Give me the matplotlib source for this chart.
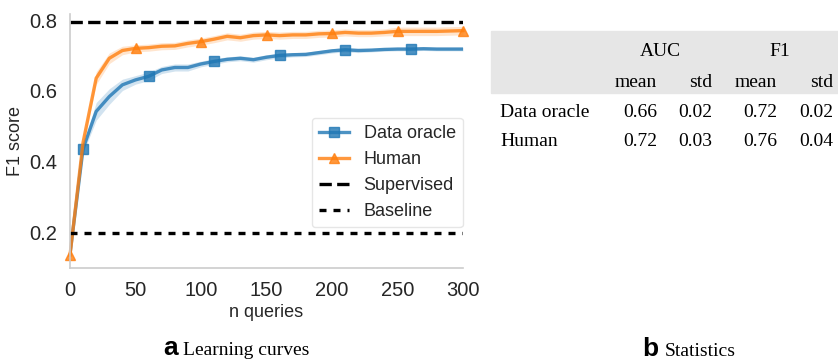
import numpy as np
import matplotlib
matplotlib.use("Agg")
import matplotlib.pyplot as plt

plt.rcParams['font.family'] = ['Liberation Sans', 'DejaVu Sans']

# learning curves, one point every 10 queries
n_queries = np.arange(0, 310, 10)
oracle_mean = [0.14, 0.437, 0.542, 0.584, 0.617, 0.631, 0.641, 0.659, 0.666, 0.666,
               0.676, 0.683, 0.689, 0.692, 0.688, 0.695, 0.700, 0.702, 0.703, 0.708,
               0.713, 0.716, 0.714, 0.715, 0.717, 0.718, 0.718, 0.719, 0.718, 0.718, 0.718]
oracle_std = [0.005, 0.012, 0.025, 0.022, 0.016, 0.012, 0.012, 0.01, 0.01, 0.01,
              0.008, 0.008, 0.007, 0.007, 0.007, 0.007, 0.007, 0.006, 0.006, 0.006,
              0.006, 0.006, 0.006, 0.005, 0.005, 0.005, 0.005, 0.005, 0.005, 0.005, 0.005]
human_mean = [0.136, 0.455, 0.636, 0.692, 0.714, 0.720, 0.722, 0.726, 0.727, 0.734,
              0.739, 0.746, 0.754, 0.750, 0.756, 0.758, 0.756, 0.758, 0.758, 0.761,
              0.762, 0.765, 0.763, 0.763, 0.765, 0.768, 0.768, 0.768, 0.768, 0.769, 0.770]
human_std = [0.005, 0.012, 0.018, 0.015, 0.012, 0.01, 0.01, 0.01, 0.01, 0.01,
             0.01, 0.01, 0.01, 0.01, 0.01, 0.01, 0.01, 0.01, 0.01, 0.01,
             0.01, 0.01, 0.01, 0.01, 0.01, 0.012, 0.012, 0.012, 0.012, 0.012, 0.012]
supervised_f1 = 0.794
baseline_f1 = 0.2

# statistics table
row_names = ["Data oracle", "Human"]
metrics = ["AUC", "F1"]
stat_names = ["mean", "std"]
table_values = [["0.66", "0.02", "0.72", "0.02"],
                ["0.72", "0.03", "0.76", "0.04"]]

W, H = 838, 360
fig = plt.figure(figsize=(W / 100, H / 100), dpi=100)

ax = fig.add_axes([70 / W, 1 - 268 / H, (463 - 70) / W, (268 - 14) / H])

x = n_queries
om, os_ = np.array(oracle_mean), np.array(oracle_std)
hm, hs = np.array(human_mean), np.array(human_std)

ax.fill_between(x, om - os_, om + os_, color='C0', alpha=0.2, lw=0)
ax.fill_between(x, hm - hs, hm + hs, color='C1', alpha=0.2, lw=0)
ax.plot(x, om, color='C0', lw=2.4, alpha=0.8, marker='s', ms=7.5, markevery=(1, 5),
        label='Data oracle')
ax.plot(x, hm, color='C1', lw=2.4, alpha=0.8, marker='^', ms=7.5, markevery=(0, 5),
        label='Human', clip_on=False)
ax.axhline(supervised_f1, color='black', lw=2.4, ls='--', label='Supervised')
ax.axhline(baseline_f1, color='black', lw=2.4, ls=(0, (2.1, 2.1)), label='Baseline')

ax.set_xlim(0, 300)
ax.set_ylim(0.1, 0.817)
ax.set_xticks([0, 50, 100, 150, 200, 250, 300])
ax.set_yticks([0.2, 0.4, 0.6, 0.8])
ax.tick_params(length=0, pad=9, labelsize=14.5, labelcolor='#262626')
for s in ['top', 'right']:
    ax.spines[s].set_visible(False)
for s in ['left', 'bottom']:
    ax.spines[s].set_color('#cccccc')
    ax.spines[s].set_linewidth(1.2)
ax.set_xlabel('n queries', fontsize=13, color='#262626', labelpad=3)
ax.set_ylabel('F1 score', fontsize=13, color='#262626', labelpad=4)

leg = ax.legend(loc='center right', bbox_to_anchor=(1.0, 0.376), borderaxespad=0,
                fontsize=13, handlelength=1.67, frameon=True, fancybox=True)
leg.get_frame().set_edgecolor('#e0e0e0')
for t in leg.get_texts():
    t.set_color('#262626')

# table on the right
serif = ['Liberation Serif', 'DejaVu Serif']
fig.patches.append(plt.Rectangle((491 / W, 1 - 93 / H), 347 / W, 62 / H,
                                 transform=fig.transFigure, color='#e6e6e6', zorder=0))
col_right = [657, 712, 777, 833]
metric_center = [660, 780]
for m, cx in zip(metrics, metric_center):
    fig.text(cx / W, 1 - 56 / H, m, family=serif, fontsize=14, ha='center', va='baseline')
for j, cr in enumerate(col_right):
    fig.text(cr / W, 1 - 87 / H, stat_names[j % 2], family=serif, fontsize=14,
             ha='right', va='baseline')
row_base = [117, 146]
for i, name in enumerate(row_names):
    fig.text(500 / W, 1 - row_base[i] / H, name, family=serif, fontsize=14,
             ha='left', va='baseline')
    for j, cr in enumerate(col_right):
        fig.text(cr / W, 1 - row_base[i] / H, table_values[i][j], family=serif,
                 fontsize=14, ha='right', va='baseline')

# panel captions
fig.text(163 / W, 1 - 355 / H, 'a', fontsize=19, fontweight='bold', ha='left', va='baseline')
fig.text(183 / W, 1 - 355 / H, 'Learning curves', family=serif, fontsize=14,
         ha='left', va='baseline')
fig.text(642 / W, 1 - 356 / H, 'b', fontsize=19, fontweight='bold', ha='left', va='baseline')
fig.text(665 / W, 1 - 356 / H, 'Statistics', family=serif, fontsize=14,
         ha='left', va='baseline')

fig.savefig('out.png', dpi=100)
